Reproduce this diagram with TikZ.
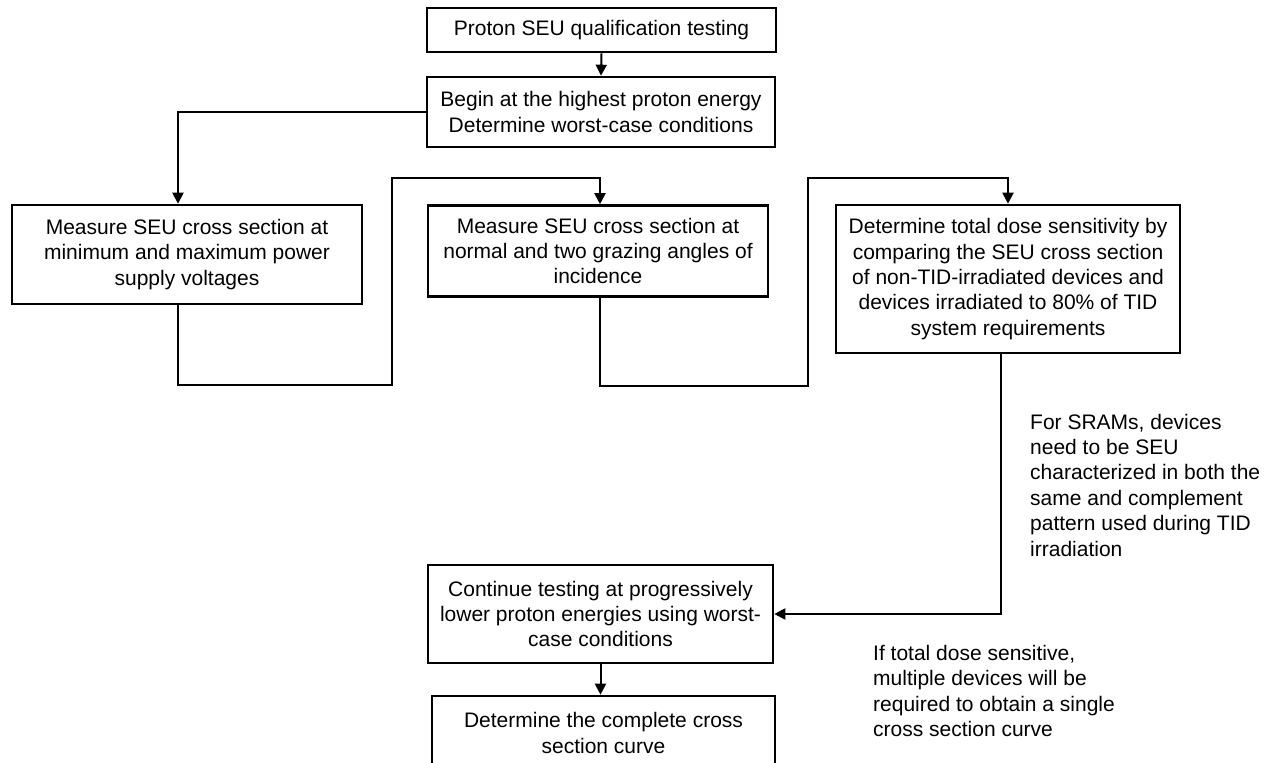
\documentclass[tikz,border=0pt]{standalone}
\usepackage{fontspec}
\setmainfont{Liberation Sans}
\usetikzlibrary{arrows.meta,calc}
\begin{document}
\begin{tikzpicture}[x=1pt,y=-1pt,
  txt/.style={font=\fontsize{21}{25.4}\selectfont},
  box/.style={txt, draw=black, line width=2.6pt, align=center, inner sep=0pt},
  note/.style={txt, align=left, inner sep=0pt, anchor=west},
  conn/.style={line width=2pt, line join=miter, -{Triangle[length=11pt,width=11pt]}}]
\useasboundingbox (0,0) rectangle (1270,763);
\clip (0,0) rectangle (1270,763);
\fill[white] (0,0) rectangle (1270,763);

\node[box, minimum width=349pt, minimum height=44pt] (n1) at (601.5,30) {Proton SEU qualification testing};
\node[box, minimum width=348pt, minimum height=70pt] (n2) at (601,112) {Begin at the highest proton energy\\Determine worst-case conditions};
\node[box, minimum width=350pt, minimum height=99pt] (n3) at (187,254.5) {Measure SEU cross section at\\minimum and maximum power\\supply voltages};
\node[box, minimum width=340pt, minimum height=91pt] (n4) at (598,251) {Measure SEU cross section at\\normal and two grazing angles of\\incidence};
\node[box, minimum width=344pt, minimum height=148pt] (n5) at (1008,279) {Determine total dose sensitivity by\\comparing the SEU cross section\\of non-TID-irradiated devices and\\devices irradiated to 80\% of TID\\system requirements};
\node[box, minimum width=345pt, minimum height=98pt] (n6) at (600.5,614) {Continue testing at progressively\\lower proton energies using worst-\\case conditions};
\node[box, minimum width=343pt, minimum height=74pt] (n7) at (603.5,733) {Determine the complete cross\\section curve};

\node[note] (t1) at (1030,485) {For SRAMs, devices\\need to be SEU\\characterized in both the\\same and complement\\pattern used during TID\\irradiation};
\node[note] (t2) at (873,691) {If total dose sensitive,\\multiple devices will be\\required to obtain a single\\cross section curve};

\draw[conn] (n1.south) -- (n2.north);
\draw[conn] (n2.west) -| ($(n3.north)+(-9,0)$);
\draw[conn] ($(n3.south)+(-9,0)$) -- ++(0,80) -| (392,178) -| ($(n4.north)+(2,0)$);
\draw[conn] ($(n4.south)+(2,0)$) -- ++(0,88) -| (808,178) -| (n5.north);
\draw[conn] ($(n5.south)+(-7,0)$) |- (n6.east);
\draw[conn] (n6.south) -- (n6.south |- n7.north);
\end{tikzpicture}
\end{document}
